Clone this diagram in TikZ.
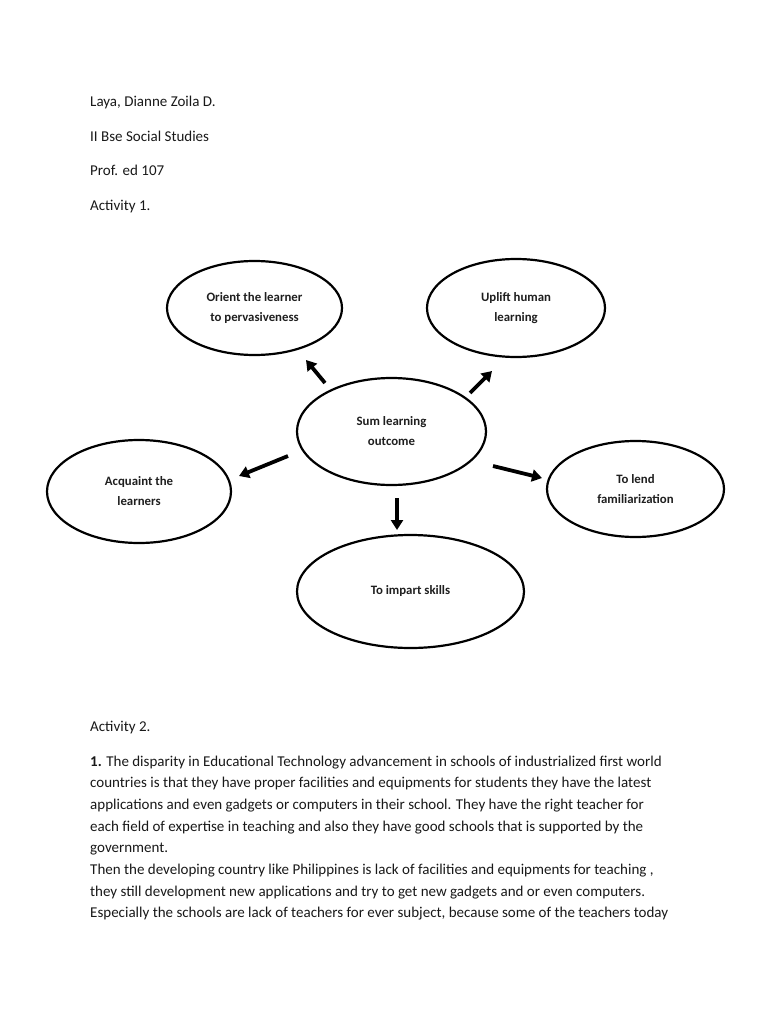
\documentclass[tikz,border=0pt]{standalone}
\usepackage{fontspec}
\setmainfont{Carlito}
\usetikzlibrary{shapes.geometric,arrows.meta}
\begin{document}
\begin{tikzpicture}[x=1pt,y=-1pt,
  bubble/.style={draw=black, line width=2.2pt, ellipse, inner sep=0pt, align=center,
    font=\fontsize{12.8}{20}\selectfont\bfseries, text=black!88},
  arr/.style={line width=3.8pt, -{Triangle[width=12pt,length=10pt]}, black},
  txt/.style={anchor=base west, inner sep=0pt, font=\fontsize{15}{21.7}\selectfont, text=black!90}]
\useasboundingbox (0,0) rectangle (768,1024);
\fill[white] (0,0) rectangle (768,1024);

% header
\node[txt] (h1) at (90,107) {Laya, Dianne Zoila D.};
\node[txt] (h2) at (90,142) {II Bse Social Studies};
\node[txt] (h3) at (90,176) {Prof. ed 107};
\node[txt] (h4) at (90,211) {Activity 1.};

% bubbles
\node[bubble, minimum width=175pt, minimum height=94pt] (orient) at (254.5,308) {Orient the learner\\to pervasiveness};
\node[bubble, minimum width=178pt, minimum height=98pt] (uplift) at (516,308) {Uplift human\\learning};
\node[bubble, minimum width=189pt, minimum height=107pt] (sum) at (391.5,431.5) {Sum learning\\outcome};
\node[bubble, minimum width=184pt, minimum height=103pt] (acq) at (139,491.5) {Acquaint the\\learners};
\node[bubble, minimum width=177pt, minimum height=96pt] (lend) at (635.5,489) {To lend\\familiarization};
\node[bubble, minimum width=227pt, minimum height=113pt] (impart) at (410.5,591.5) {To impart skills};

% arrows
\coordinate (a1s) at (325,383); \coordinate (a1e) at (306,360);
\coordinate (a2s) at (470,393); \coordinate (a2e) at (492,371);
\coordinate (a3s) at (288,456); \coordinate (a3e) at (239,476);
\coordinate (a4s) at (493,466); \coordinate (a4e) at (542,478);
\coordinate (a5s) at (397,498); \coordinate (a5e) at (397,530);
\draw[arr] (a1s) -- (a1e);
\draw[arr] (a2s) -- (a2e);
\draw[arr] (a3s) -- (a3e);
\draw[arr] (a4s) -- (a4e);
\draw[arr] (a5s) -- (a5e);

% activity 2
\node[txt] (h5) at (90,731) {Activity 2.};
\node[txt] (l1) at (90,766) {\textbf{1.} The disparity in Educational Technology advancement in schools of industrialized first world};
\node[txt] (l2) at (90,787.7) {countries is that they have proper facilities and equipments for students they have the latest};
\node[txt] (l3) at (90,809.4) {applications and even gadgets or computers in their school. They have the right teacher for};
\node[txt] (l4) at (90,831.1) {each field of expertise in teaching and also they have good schools that is supported by the};
\node[txt] (l5) at (90,852.8) {government.};
\node[txt] (l6) at (90,874.5) {Then the developing country like Philippines is lack of facilities and equipments for teaching ,};
\node[txt] (l7) at (90,896.2) {they still development new applications and try to get new gadgets and or even computers.};
\node[txt] (l8) at (90,917.9) {Especially the schools are lack of teachers for ever subject, because some of the teachers today};
\end{tikzpicture}
\end{document}
